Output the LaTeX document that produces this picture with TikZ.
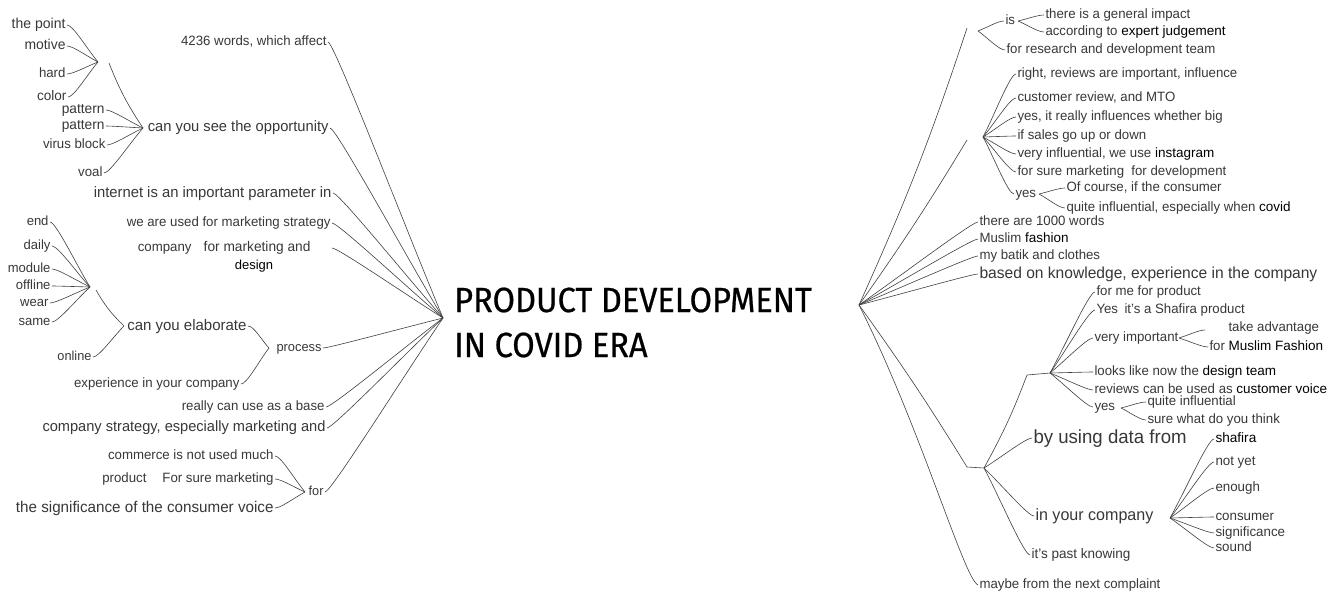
\documentclass[tikz,border=0pt]{standalone}
\usepackage{fontspec}
\setmainfont{Liberation Sans}[FakeStretch=0.98]
\newfontfamily\altf{Liberation Sans}
\newfontfamily\titlef{Fira Sans}[FakeStretch=0.93,FakeBold=0.6]
\usetikzlibrary{calc}
\newcommand\altw[1]{{\altf\color{black}#1}}
\newcommand\linkR[2]{\draw[cn] (#1) .. controls ($(#1)!0.35!(#2)$) and ($(#2)+(-6,0)$) .. (#2);}
\newcommand\linkL[2]{\draw[cn] (#1) .. controls ($(#1)!0.35!(#2)$) and ($(#2)+(6,0)$) .. (#2);}
\tikzset{
  tx/.style={inner sep=0pt, outer sep=1.5pt, text=black!78, font=\fontsize{#1}{#1}\selectfont,
    execute at begin node={\rule[-0.22em]{0pt}{0.97em}}},
  lt/.style={tx=#1, anchor=east}, lt/.default=13.5,
  rt/.style={tx=#1, anchor=west}, rt/.default=13.5,
  cn/.style={draw=black!75, line width=0.6pt},
}
\begin{document}
\begin{tikzpicture}[x=1pt,y=1pt]
\fill[white] (0,0) rectangle (1330,-591);
\useasboundingbox (0,0) rectangle (1330,-591);

% title
\node[anchor=west, inner sep=0pt, align=left, font=\titlef\fontsize{35}{45}\selectfont] (T) at (454,-322.5) {PRODUCT DEVELOPMENT\\IN COVID ERA};

% ---------- left side ----------
\coordinate (H) at (443,-318);
\node[lt=13.5] (L1) at (328,-42) {4236 words, which affect};
\node[lt=15] (L2) at (330,-128) {can you see the opportunity};
\node[lt=15.1] (L3) at (333,-193) {internet is an important parameter in};
\node[lt=13.5] (L4) at (332,-223) {we are used for marketing strategy};
\node[lt=13.5] (L5b) at (193,-248) {company};
\node[lt=14] (L5) at (312,-248) {for marketing and};
\node[tx=13, anchor=center] (L5d) at (254,-266) {\altw{design}};
\coordinate (c5) at (332,-248);
\node[lt=13.1] (L6) at (323,-348) {process};
\node[lt=13.5] (L7) at (326,-407) {really can use as a base};
\node[lt=14.9] (L8) at (327,-428) {company strategy, especially marketing and};
\node[lt=13] (L9) at (325,-492) {for};
\linkL{H}{L1.east}
\linkL{H}{L2.east}
\linkL{H}{L3.east}
\linkL{H}{L4.east}
\linkL{H}{c5}
\linkL{H}{L6.east}
\linkL{H}{L7.east}
\linkL{H}{L8.east}
\linkL{H}{L9.east}

% opportunity subtree
\coordinate (A) at (143,-128);
\node[lt=14] (A1) at (106,-110) {pattern};
\node[lt=14] (A2) at (106,-126) {pattern};
\node[lt] (A3) at (107,-145) {virus block};
\node[lt] (A4) at (104,-173) {voal};
\coordinate (a0) at (109,-63);
\coordinate (A0) at (98,-62);
\node[lt=14.3] (A5) at (67,-25) {the point};
\node[lt=14.2] (A6) at (67,-46) {motive};
\node[lt] (A7) at (67,-74) {hard};
\node[lt=13.8] (A8) at (68,-97) {color};
\linkL{A}{A1.east}
\linkL{A}{A2.east}
\linkL{A}{A3.east}
\linkL{A}{A4.east}
\draw[cn] (A) to[bend left=6] (a0);
\linkL{A0}{A5.east}
\linkL{A0}{A6.east}
\linkL{A0}{A7.east}
\linkL{A0}{A8.east}

% elaborate subtree
\node[lt=15.3] (E) at (248,-326) {can you elaborate};
\coordinate (B) at (124,-326);
\coordinate (b0) at (96,-290);
\coordinate (B0) at (90,-287);
\node[lt=13.3] (E1) at (50,-222) {end};
\node[lt=13.3] (E2) at (52,-246) {daily};
\node[lt=13.3] (E3) at (52,-269) {module};
\node[lt=13.3] (E4) at (52,-286) {offline};
\node[lt=13.3] (E5) at (50,-303) {wear};
\node[lt=13.3] (E6) at (52,-322) {same};
\node[lt=13] (E7) at (93,-357) {online};
\draw[cn] (B) to[bend left=8] (b0);
\linkL{B}{E7.east}
\linkL{B0}{E1.east}
\linkL{B0}{E2.east}
\linkL{B0}{E3.east}
\linkL{B0}{E4.east}
\linkL{B0}{E5.east}
\linkL{B0}{E6.east}
\coordinate (P) at (269,-348);
\node[lt=13.5] (X) at (241,-384) {experience in your company};
\linkL{P}{E.east}
\linkL{P}{X.east}

% for subtree
\coordinate (F) at (305,-492);
\node[lt=13.5] (F1) at (275,-456) {commerce is not used much};
\node[lt=13.5] (F2) at (275,-479) {For sure marketing};
\node[lt=13.5] (F2b) at (148,-479) {product};
\node[lt=15.5] (F3) at (275,-508) {the significance of the consumer voice};
\linkL{F}{F1.east}
\linkL{F}{F2.east}
\linkL{F}{F3.east}

% ---------- right side ----------
\coordinate (R) at (859,-305);
\coordinate (c1) at (967,-28);
\draw[cn] (R) to[bend right=3] (c1);
\coordinate (X1) at (978,-31);
\node[rt=13.5] (IS) at (1004,-21) {is};
\coordinate (ISh) at (1018,-21);
\node[rt=13.5] (IS1) at (1044,-15) {there is a general impact};
\node[rt=13.5] (IS2) at (1044,-32) {according to \altw{expert judgement}};
\node[rt=13.5] (RD) at (1005,-50) {for research and development team};
\linkR{X1}{IS.west}
\linkR{X1}{RD.west}
\linkR{ISh}{IS1.west}
\linkR{ISh}{IS2.west}

\coordinate (c2) at (967,-140);
\draw[cn] (R) to[bend right=2] (c2);
\coordinate (X2) at (983,-137);
\node[rt] (G1) at (1016,-74) {right, reviews are important, influence};
\node[rt] (G2) at (1016,-98) {customer review, and MTO};
\node[rt] (G3) at (1016,-117) {yes, it really influences whether big};
\node[rt] (G4) at (1016,-136) {if sales go up or down};
\node[rt] (G5) at (1016,-154) {very influential, we use \altw{instagram}};
\node[rt] (G6) at (1016,-172) {for sure marketing\ \ for development};
\node[rt] (G7) at (1014,-194) {yes};
\linkR{X2}{G1.west}
\linkR{X2}{G2.west}
\linkR{X2}{G3.west}
\linkR{X2}{G4.west}
\linkR{X2}{G5.west}
\linkR{X2}{G6.west}
\linkR{X2}{G7.west}
\coordinate (Y1) at (1039,-194);
\node[rt] (Y11) at (1065,-188) {Of course, if the consumer};
\node[rt] (Y12) at (1065,-208) {quite influential, especially when \altw{covid}};
\linkR{Y1}{Y11.west}
\linkR{Y1}{Y12.west}

\node[rt] (M1) at (978,-222) {there are 1000 words};
\node[rt] (M2) at (978,-239) {Muslim \altw{fashion}};
\node[rt] (M3) at (978,-256) {my batik and clothes};
\node[rt=15.9] (M4) at (978,-274) {based on knowledge, experience in the company};
\linkR{R}{M1.west}
\linkR{R}{M2.west}
\linkR{R}{M3.west}
\linkR{R}{M4.west}

\coordinate (c3) at (967,-467);
\coordinate (X3) at (984,-468);
\draw[cn] (R) to[bend left=2] (c3) -- (X3);
\coordinate (c4) at (1027,-375);
\coordinate (X4) at (1050,-373);
\draw[cn] (X3) to[bend right=4] (c4) -- (X4);

\node[rt] (V1) at (1095,-292) {for me for product};
\node[rt] (V2) at (1095,-310) {Yes};
\node[rt] (V2b) at (1123,-310) {it's a Shafira product};
\node[rt] (V3) at (1093,-338) {very important};
\coordinate (VI) at (1179,-338);
\coordinate (v4) at (1205,-330);
\node[rt] (V31) at (1227,-328) {take advantage};
\node[rt] (V32) at (1208,-347) {for \altw{Muslim Fashion}};
\node[rt] (V4) at (1093,-372) {looks like now the \altw{design team}};
\node[rt] (V5) at (1093,-390) {reviews can be used as \altw{customer voice}};
\node[rt] (V6) at (1093,-407) {yes};
\coordinate (Y2) at (1121,-408);
\node[rt] (V61) at (1146,-402) {quite influential};
\node[rt] (V62) at (1146,-420) {sure what do you think};
\linkR{X4}{V1.west}
\linkR{X4}{V2.west}
\linkR{X4}{V3.west}
\linkR{X4}{V4.west}
\linkR{X4}{V5.west}
\linkR{X4}{V6.west}
\linkR{VI}{v4}
\linkR{VI}{V32.west}
\linkR{Y2}{V61.west}
\linkR{Y2}{V62.west}

\node[rt=19] (D1) at (1032,-438) {by using data from};
\node[rt=16.4] (D2) at (1034,-516) {in your company};
\node[rt=13.8] (D3) at (1030,-555) {it's past knowing};
\linkR{X3}{D1.west}
\linkR{X3}{D2.west}
\linkR{X3}{D3.west}
\coordinate (IC) at (1170,-518);
\node[rt=13.6] (K1) at (1214,-439) {\altw{shafira}};
\node[rt=13.6] (K2) at (1214,-462) {not yet};
\node[rt=13.6] (K3) at (1214,-488) {enough};
\node[rt=13.6] (K4) at (1214,-517) {consumer};
\node[rt=13.6] (K5) at (1214,-533) {significance};
\node[rt=13.6] (K6) at (1214,-548) {sound};
\linkR{IC}{K1.west}
\linkR{IC}{K2.west}
\linkR{IC}{K3.west}
\linkR{IC}{K4.west}
\linkR{IC}{K5.west}
\linkR{IC}{K6.west}

\node[rt] (MB) at (978,-585) {maybe from the next complaint};
\draw[cn] (R) .. controls ($(R)!0.45!(MB.west)+(8,4)$) and ($(MB.west)+(-14,6)$) .. (MB.west);
\end{tikzpicture}
\end{document}
